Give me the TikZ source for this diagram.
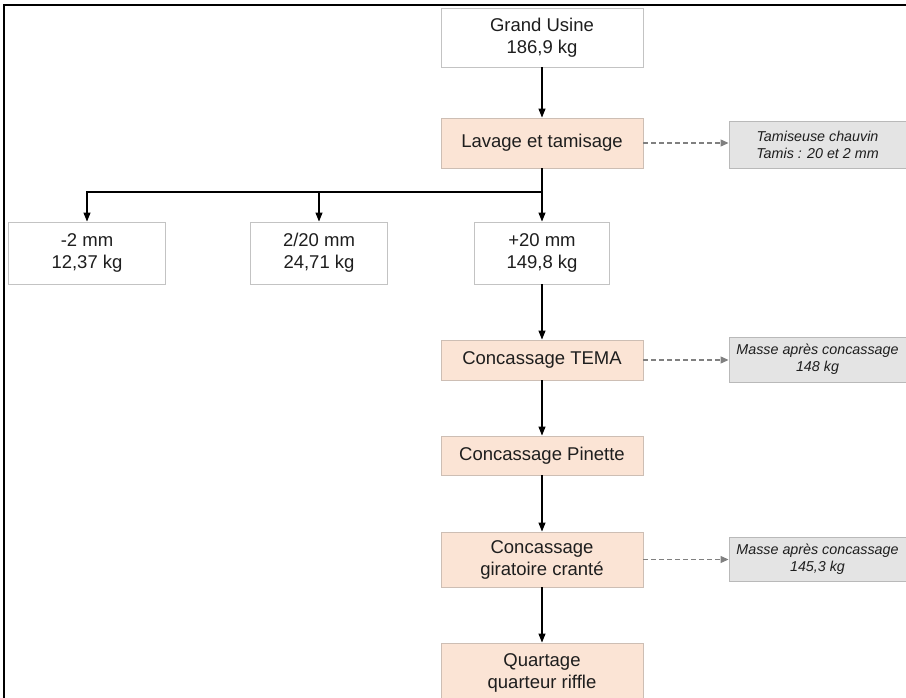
\documentclass[tikz,border=0pt]{standalone}
\usepackage{fontspec}
\setmainfont{Liberation Sans}
\usetikzlibrary{arrows.meta}
\definecolor{peachfill}{RGB}{251,228,213}
\definecolor{peachline}{RGB}{205,190,180}
\definecolor{greyfill}{RGB}{228,228,228}
\definecolor{greyline}{RGB}{185,185,185}
\definecolor{boxline}{RGB}{195,195,195}
\definecolor{txt}{RGB}{30,30,30}
\definecolor{dashgrey}{RGB}{128,128,128}
\tikzset{
  basebox/.style={rectangle, align=center, inner sep=0pt, text=txt,
    font=\fontsize{18.5}{22}\selectfont, line width=0.9pt},
  whitebox/.style={basebox, draw=boxline, fill=white},
  peachbox/.style={basebox, draw=peachline, fill=peachfill},
  greybox/.style={basebox, draw=greyline, fill=greyfill,
    font=\fontsize{14.3}{17}\selectfont\itshape},
  arr/.style={line width=1.1pt, draw=black, -{Triangle[length=9pt,width=7pt]}},
  plainline/.style={line width=1.1pt, draw=black},
  dasharr/.style={line width=1.1pt, draw=dashgrey, dash pattern=on 5pt off 3pt,
    -{Triangle[length=8pt,width=7pt,fill=dashgrey]}}
}
\begin{document}
\begin{tikzpicture}[x=1pt,y=-1pt]
\useasboundingbox (0,0) rectangle (906,698);
\clip (0,0) rectangle (906,698);
% outer frame
\draw[line width=1.3pt] (4,700) -- (4,5) -- (908,5);

\node[whitebox, minimum width=202pt, minimum height=59pt] (gu) at (542,37.5) {Grand Usine\\186,9 kg};
\node[peachbox, minimum width=202pt, minimum height=50pt] (lav) at (542,143) {Lavage et tamisage};
\node[greybox, minimum width=177pt, minimum height=47pt] (tam) at (817.5,144.5) {Tamiseuse chauvin\\Tamis : 20 et 2 mm};

\node[whitebox, minimum width=157pt, minimum height=62pt] (m2) at (87,253) {-2 mm\\12,37 kg};
\node[whitebox, minimum width=137pt, minimum height=62pt] (m220) at (319,253) {2/20 mm\\24,71 kg};
\node[whitebox, minimum width=135pt, minimum height=62pt] (p20) at (542,253) {+20 mm\\149,8 kg};

\node[peachbox, minimum width=202pt, minimum height=40pt] (tema) at (542,360) {Concassage TEMA};
\node[greybox, minimum width=177pt, minimum height=45pt] (ma1) at (817.5,359.5) {Masse après concassage\\148 kg};

\node[peachbox, minimum width=202pt, minimum height=39pt] (pin) at (542,455.5) {Concassage Pinette};

\node[peachbox, minimum width=202pt, minimum height=55pt] (gir) at (542,559.5) {Concassage\\giratoire cranté};
\node[greybox, minimum width=177pt, minimum height=44pt] (ma2) at (817.5,559) {Masse après concassage\\145,3 kg};

\node[peachbox, minimum width=202pt, minimum height=60pt] (qua) at (542,673) {Quartage\\quarteur riffle};

\coordinate (br) at (542,192);

\draw[arr] (gu) -- (lav);
\draw[plainline] (lav.south) -- (br);
\draw[arr] (br) -| (m2.north);
\draw[arr] (br) -| (m220.north);
\draw[arr] (br) -- (p20.north);
\draw[arr] (p20) -- (tema);
\draw[arr] (tema) -- (pin);
\draw[arr] (pin) -- (gir);
\draw[arr] (gir) -- (qua);

\draw[dasharr] (lav.east) -- (lav.east -| tam.west);
\draw[dasharr] (tema.east) -- (tema.east -| ma1.west);
\draw[dasharr] (gir.east) -- (gir.east -| ma2.west);
\end{tikzpicture}
\end{document}
